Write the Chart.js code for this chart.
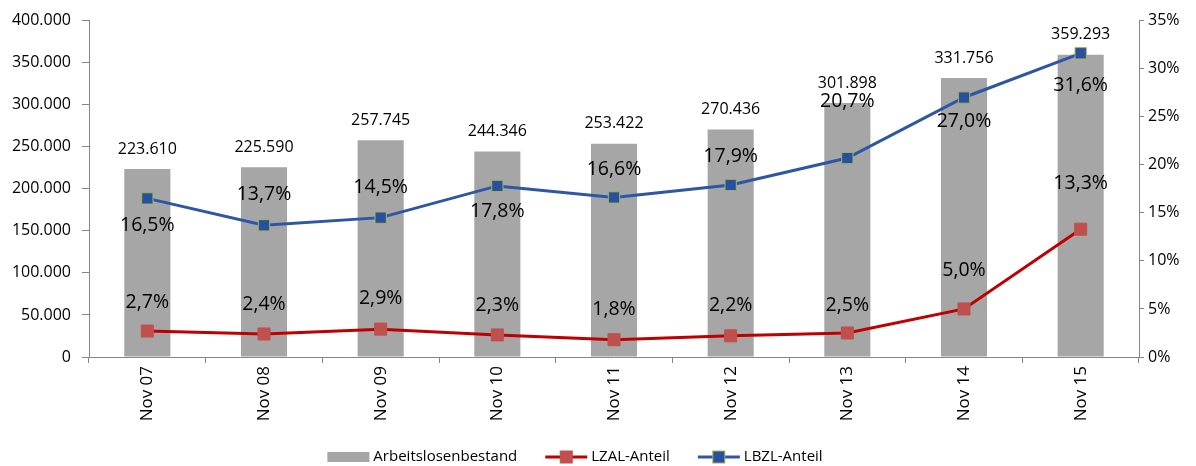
<!DOCTYPE html>
<html>
<head>
<meta charset="utf-8">
<script src="https://cdn.jsdelivr.net/npm/chart.js@4.4.0/dist/chart.umd.min.js"></script>
<style>
  html, body { margin: 0; padding: 0; background: #fff; }
  #wrap { width: 1196px; height: 466px; position: relative; }
</style>
</head>
<body>
<div id="wrap"><canvas id="chart"></canvas></div>
<script>
const categories = ["Nov 07", "Nov 08", "Nov 09", "Nov 10", "Nov 11", "Nov 12", "Nov 13", "Nov 14", "Nov 15"];
const bestand = [223610, 225590, 257745, 244346, 253422, 270436, 301898, 331756, 359293];
const lzalAnteil = [2.7, 2.4, 2.9, 2.3, 1.8, 2.2, 2.5, 5.0, 13.3];
const lbzlAnteil = [16.5, 13.7, 14.5, 17.8, 16.6, 17.9, 20.7, 27.0, 31.6];
const leftTicks = [0, 50000, 100000, 150000, 200000, 250000, 300000, 350000, 400000];
const rightTicks = [0, 5, 10, 15, 20, 25, 30, 35];

// label offsets (px, relative to the point) as placed in the original
const lzalLabelOffset = [-29, -29, -31, -29, -30, -30, -28, -39, -46];
const lbzlLabelOffset = [27, -31, -30, 26, -28, -29, -57, 24, 32];

const FONT = "'Open Sans', 'Noto Sans', sans-serif";
const AXIS_COLOR = "#868686";

// 223610 -> "223.610"
function fmtThousands(v) {
  return String(Math.round(v)).replace(/\B(?=(\d{3})+(?!\d))/g, ".");
}
function fmtPct(v) {
  return v.toFixed(1).replace(".", ",") + "%";
}

const labelPlugin = {
  id: "valueLabels",
  afterDatasetsDraw(chart) {
    const ctx = chart.ctx;
    ctx.save();
    ctx.fillStyle = "#000";
    ctx.textAlign = "center";
    ctx.textBaseline = "middle";

    // bar values
    ctx.font = "16px " + FONT;
    chart.getDatasetMeta(0).data.forEach((el, i) => {
      ctx.fillText(fmtThousands(bestand[i]), el.x, el.y - 20);
    });

    ctx.font = "19.5px " + FONT;
    chart.getDatasetMeta(1).data.forEach((el, i) => {
      ctx.fillText(fmtPct(lzalAnteil[i]), el.x, el.y + lzalLabelOffset[i]);
    });
    chart.getDatasetMeta(2).data.forEach((el, i) => {
      ctx.fillText(fmtPct(lbzlAnteil[i]), el.x, el.y + lbzlLabelOffset[i]);
    });
    ctx.restore();
  },
};

const legendPlugin = {
  id: "bottomLegend",
  afterDraw(chart) {
    const ctx = chart.ctx;
    const ds = chart.data.datasets;
    const swatch = 42, gap = 4, spacing = 28, y = 457;
    ctx.save();
    ctx.font = "15px " + FONT;
    ctx.textBaseline = "middle";
    const widths = ds.map((d) => swatch + gap + ctx.measureText(d.label).width);
    const total = widths.reduce((a, b) => a + b, 0) + spacing * (ds.length - 1);
    let x = 575 - total / 2;
    ds.forEach((d, i) => {
      if (d.type === "bar") {
        ctx.fillStyle = d.backgroundColor;
        ctx.fillRect(x, y - 5, swatch, 10);
      } else {
        ctx.strokeStyle = d.borderColor;
        ctx.lineWidth = 3;
        ctx.beginPath();
        ctx.moveTo(x, y);
        ctx.lineTo(x + swatch, y);
        ctx.stroke();
        ctx.fillStyle = d.pointBackgroundColor;
        ctx.fillRect(x + swatch / 2 - 6, y - 6, 12, 12);
        ctx.strokeStyle = d.pointBorderColor;
        ctx.lineWidth = 1;
        ctx.strokeRect(x + swatch / 2 - 6, y - 6, 12, 12);
      }
      ctx.fillStyle = "#000";
      ctx.fillText(d.label, x + swatch + gap, y);
      x += widths[i] + spacing;
    });
    ctx.restore();
  },
};

Chart.defaults.font.family = FONT;
Chart.defaults.color = "#000";

new Chart(document.getElementById("chart"), {
  data: {
    labels: categories,
    datasets: [
      {
        type: "bar",
        label: "Arbeitslosenbestand",
        data: bestand,
        yAxisID: "y",
        backgroundColor: "#A6A6A6",
        barPercentage: 0.79,
        categoryPercentage: 0.5,
        order: 2,
      },
      {
        type: "line",
        label: "LZAL-Anteil",
        data: lzalAnteil,
        yAxisID: "y1",
        borderColor: "#C00000",
        borderWidth: 3,
        pointStyle: "rect",
        pointRadius: 8.5,
        pointBackgroundColor: "#C0504D",
        pointBorderColor: "#C0504D",
        pointBorderWidth: 1,
        tension: 0,
        order: 1,
      },
      {
        type: "line",
        label: "LBZL-Anteil",
        data: lbzlAnteil,
        yAxisID: "y1",
        borderColor: "#2E56A6",
        borderWidth: 3,
        pointStyle: "rect",
        pointRadius: 8,
        pointBackgroundColor: "#2A4F9C",
        pointBorderColor: "#9BBB59",
        pointBorderWidth: 1,
        tension: 0,
        order: 0,
      },
    ],
  },
  options: {
    responsive: true,
    maintainAspectRatio: false,
    animation: false,
    layout: { padding: { top: 19, bottom: 0, left: 0, right: 0 } },
    plugins: {
      legend: { display: false },
      tooltip: { enabled: false },
    },
    scales: {
      x: {
        grid: { drawOnChartArea: false, offset: true, tickLength: 6, color: AXIS_COLOR },
        border: { color: AXIS_COLOR },
        ticks: { minRotation: 90, maxRotation: 90, padding: 3, font: { size: 17 }, color: "#000" },
        afterFit: (s) => { s.height = 109; },
      },
      y: {
        position: "left",
        min: 0,
        max: 400000,
        afterBuildTicks: (s) => { s.ticks = leftTicks.map((v) => ({ value: v })); },
        grid: { drawOnChartArea: false, tickLength: 7, color: AXIS_COLOR },
        border: { color: AXIS_COLOR },
        ticks: { padding: 11, font: { size: 16 }, color: "#000", callback: (v) => fmtThousands(v) },
        afterFit: (s) => { s.width = 89; },
      },
      y1: {
        position: "right",
        min: 0,
        max: 35,
        afterBuildTicks: (s) => { s.ticks = rightTicks.map((v) => ({ value: v })); },
        grid: { drawOnChartArea: false, tickLength: 5, color: AXIS_COLOR },
        border: { color: AXIS_COLOR },
        ticks: { padding: 4, font: { size: 16 }, color: "#000", callback: (v) => v + "%" },
        afterFit: (s) => { s.width = 57; },
      },
    },
  },
  plugins: [labelPlugin, legendPlugin],
});
</script>
</body>
</html>
